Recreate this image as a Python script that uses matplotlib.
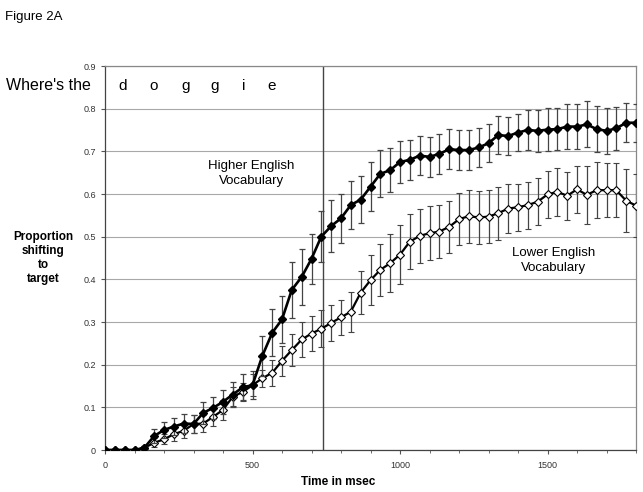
import numpy as np
import matplotlib
matplotlib.use("Agg")
import matplotlib.pyplot as plt
from matplotlib.ticker import MultipleLocator

plt.rcParams['font.family'] = ['Liberation Sans', 'DejaVu Sans']

# frame times (ms), one video frame = 33.3 ms
time_ms = [0, 33, 67, 100, 133, 167, 200, 233, 267, 300, 333, 367, 400, 433,
           467, 500, 533, 567, 600, 633, 667, 700, 733, 767, 800, 833, 867,
           900, 933, 967, 1000, 1033, 1067, 1100, 1133, 1167, 1200, 1233,
           1267, 1300, 1333, 1367, 1400, 1433, 1467, 1500, 1533, 1567, 1600,
           1633, 1667, 1700, 1733, 1767, 1800]

higher = [0, 0, 0, 0, 0.005, 0.033, 0.047, 0.055, 0.062, 0.061, 0.087, 0.099,
          0.113, 0.130, 0.147, 0.152, 0.22, 0.275, 0.306, 0.375, 0.406, 0.448,
          0.50, 0.525, 0.543, 0.574, 0.587, 0.617, 0.647, 0.656, 0.675, 0.680,
          0.690, 0.687, 0.694, 0.705, 0.703, 0.703, 0.709, 0.719, 0.738, 0.736,
          0.744, 0.750, 0.748, 0.751, 0.752, 0.758, 0.758, 0.763, 0.752, 0.748,
          0.754, 0.767, 0.767]
higher_err = [0, 0, 0, 0, 0.005, 0.017, 0.018, 0.02, 0.022, 0.022, 0.025, 0.026,
              0.028, 0.03, 0.03, 0.032, 0.047, 0.055, 0.055, 0.065, 0.066, 0.059,
              0.06, 0.062, 0.058, 0.057, 0.056, 0.057, 0.055, 0.052, 0.05, 0.047,
              0.046, 0.046, 0.046, 0.047, 0.046, 0.046, 0.046, 0.045, 0.045,
              0.045, 0.044, 0.046, 0.049, 0.05, 0.05, 0.052, 0.052, 0.054, 0.054,
              0.054, 0.05, 0.046, 0.045]

lower = [0, 0, 0, 0, 0.005, 0.017, 0.025, 0.037, 0.045, 0.061, 0.062, 0.078,
         0.094, 0.125, 0.136, 0.152, 0.168, 0.181, 0.209, 0.234, 0.259, 0.273,
         0.284, 0.298, 0.311, 0.324, 0.369, 0.398, 0.422, 0.438, 0.458, 0.488,
         0.502, 0.508, 0.512, 0.523, 0.541, 0.548, 0.545, 0.547, 0.555, 0.566,
         0.569, 0.574, 0.582, 0.599, 0.605, 0.596, 0.611, 0.598, 0.609, 0.609,
         0.609, 0.584, 0.573]
lower_err = [0, 0, 0, 0, 0.005, 0.01, 0.012, 0.015, 0.017, 0.02, 0.02, 0.022,
             0.023, 0.022, 0.022, 0.025, 0.02, 0.03, 0.035, 0.038, 0.04, 0.04,
             0.043, 0.042, 0.041, 0.047, 0.05, 0.058, 0.06, 0.068, 0.07, 0.064,
             0.064, 0.063, 0.062, 0.061, 0.061, 0.062, 0.062, 0.062, 0.062,
             0.058, 0.055, 0.055, 0.055, 0.055, 0.057, 0.056, 0.055, 0.068,
             0.066, 0.064, 0.063, 0.074, 0.073]

y_ticks = [0, 0.1, 0.2, 0.3, 0.4, 0.5, 0.6, 0.7, 0.8, 0.9]
y_labels = ['0', '0.1', '0.2', '0.3', '0.4', '0.5', '0.6', '0.7', '0.8', '0.9']
x_ticks = [0, 500, 1000, 1500]

word_letters = ['d', 'o', 'g', 'g', 'i', 'e']
letter_ms = [61, 163, 274, 372, 470, 565]
noun_onset = 738

fig = plt.figure(figsize=(6.43, 4.92), dpi=100)
ax = fig.add_axes([105 / 643, 1 - 450 / 492, 531 / 643, 384 / 492])

ax.set_xlim(0, 1800)
ax.set_ylim(0, 0.9)
ax.set_yticks(y_ticks, y_labels)
ax.set_xticks(x_ticks)
ax.xaxis.set_minor_locator(MultipleLocator(100))
ax.yaxis.grid(True, color='#a8a8a8', lw=0.8)
ax.set_axisbelow(True)
ax.tick_params(axis='both', labelsize=6.5, labelcolor='#333333', color='#555555',
               length=3, width=0.8)
ax.tick_params(axis='x', which='minor', length=2.5, color='#555555')
ax.tick_params(axis='x', pad=5)

for side in ['left', 'bottom']:
    ax.spines[side].set_color('#444444')
    ax.spines[side].set_linewidth(0.9)
for side in ['top', 'right']:
    ax.spines[side].set_color('#888888')
    ax.spines[side].set_linewidth(0.9)

ax.axvline(noun_onset, color='#444444', lw=1.0, zorder=1)

ax.errorbar(time_ms, lower, yerr=lower_err, color='black', lw=1.6,
            marker='D', markersize=4.3, mfc='white', mec='black', mew=0.8,
            ecolor='#444444', elinewidth=0.9, capsize=2.5, capthick=0.9,
            zorder=3)
ax.errorbar(time_ms, higher, yerr=higher_err, color='black', lw=1.9,
            marker='D', markersize=4.3, mfc='black', mec='black',
            ecolor='#444444', elinewidth=0.9, capsize=2.5, capthick=0.9,
            zorder=4)

ax.text(495, 0.648, 'Higher English\nVocabulary', ha='center', va='center',
        fontsize=9.5, linespacing=1.35)
ax.text(1520, 0.445, 'Lower English\nVocabulary', ha='center', va='center',
        fontsize=9.5, linespacing=1.35)

for letter, t in zip(word_letters, letter_ms):
    ax.text(t, 0.853, letter, ha='center', va='center', fontsize=11)

fig.text(6 / 643, 1 - 86 / 492, "Where's the", ha='left', va='center',
         fontsize=11.5)
fig.text(5 / 643, 1 - 17 / 492, 'Figure 2A', ha='left', va='center',
         fontsize=9.5)
fig.text(43 / 643, 1 - 258 / 492, 'Proportion\nshifting\nto\ntarget',
         ha='center', va='center', fontsize=8.5, fontweight='bold',
         linespacing=1.2)
fig.text(338 / 643, 1 - 482 / 492, 'Time in msec', ha='center', va='center',
         fontsize=8.5, fontweight='bold')

fig.savefig('out.png', dpi=100)
